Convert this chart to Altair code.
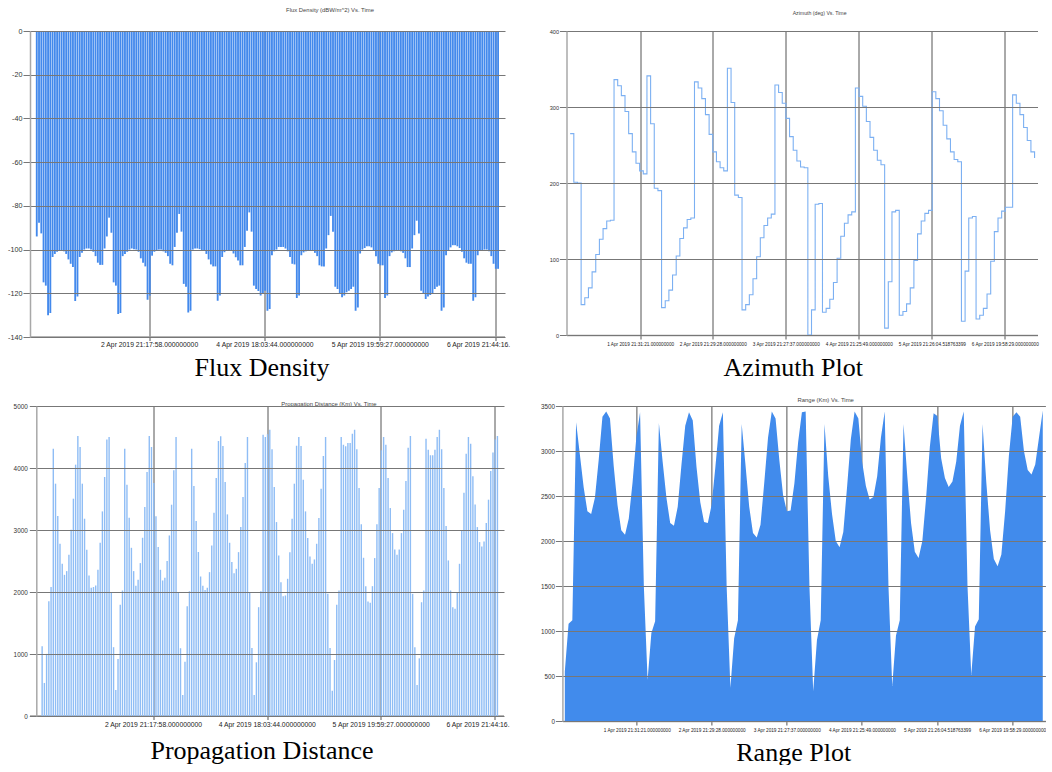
import json
import altair as alt
import pandas as pd

# ---------------- data ----------------
flux_values = [
    -94, -87.7, -92.6, -115, -116.5, -130, -129, -103.4, -102, -101, -100.5, -100.3, -100.8, -102, -104.5,
    -106.5, -108, -123.5, -121.5, -103.4, -101.5, -100, -99.5, -99.5, -100, -101, -103, -106, -107, -107,
    -99.5, -94, -85.4, -92.3, -115, -116.5, -129.5, -129, -103, -102, -101, -100, -99.5, -99.8, -100,
    -101, -104, -106, -107.7, -123, -121, -102.8, -101, -100.3, -100, -100, -100.8, -101.5, -103, -106.5,
    -107.2, -98.8, -92.3, -83.7, -91.8, -115.7, -117, -128.8, -128, -100, -99.5, -99.5, -99.8, -100.2, -100.6,
    -102, -104.5, -106.8, -107.7, -107.7, -123.4, -121, -103.4, -101.2, -100.5, -100.3, -100.6, -101.8, -103.5, -105,
    -107.2, -107.2, -98.8, -91.4, -83, -91.8, -116.5, -118, -119, -121, -120, -118.8, -128, -127.2, -102.6,
    -100.8, -100, -98.8, -98.8, -98.8, -99.5, -100.8, -103.4, -106.5, -106.8, -122.2, -121, -102.6, -101.3, -100.8,
    -100.6, -100.6, -100.6, -101.5, -103, -107.2, -107.7, -107.7, -99.5, -93.4, -84.6, -91.8, -117, -118, -120,
    -121.8, -121, -119.5, -118.8, -118, -117, -128, -126.5, -101.8, -100, -99.3, -98.5, -98.5, -99, -100.5,
    -103, -106.5, -107.2, -107.2, -122.2, -121, -103, -101.3, -100.8, -100.6, -100.6, -100.8, -101.5, -104, -108,
    -108, -99.5, -93.4, -86.8, -92.6, -118.8, -120.3, -122.6, -121.5, -120.8, -120, -118, -117, -116.5, -128,
    -126.5, -102.6, -100.5, -99, -98, -98, -98.5, -99.3, -101, -104, -106, -106.5, -106.5, -123.4, -121.8,
    -102.6, -100.6, -100.2, -100, -100, -100.8, -103, -106.5, -108.8, -108.8,
]

prop_values = [
    1125, 533, 1002, 1851, 2080, 4312, 3747, 3225, 2778, 2455, 2277, 2337, 2600, 3004, 3505, 4054, 4517, 4339,
    3747, 3182, 2682, 2267, 2067, 2080, 2105, 2358, 2794, 3300, 3855, 4458, 4500,
    1986, 1110, 420, 919, 1793, 2024,
    4312, 3731, 3198, 2713, 2337, 2100, 2197, 2466, 2875, 3370, 3935, 4517, 4339, 3758, 3220, 2724, 2358, 2186,
    2229, 2498, 2912, 3408, 3963, 4500,
    1986, 1093, 339, 877, 1771, 2012,
    4312, 3710, 3145, 2645, 2250, 2100, 2032, 2067, 2320, 2751, 3279, 3839, 4436, 4511, 4355, 3774, 3252, 2794,
    2482, 2304, 2374, 2643, 3047, 3532, 4081, 4500,
    1986, 1098, 339, 866, 1755, 2012,
    4538, 4500, 4543, 4618, 4301, 3693, 3128, 2590, 2159, 1932, 1943, 2213, 2643, 3182, 3747, 4360, 4500, 4355,
    3812, 3300, 2869, 2573, 2455, 2525, 2778, 3193, 3666, 4194, 4500,
    1970, 1098, 409, 903, 1793, 2024,
    4500, 4377, 4350, 4404, 4404, 4554, 4618, 4301, 3677, 3091, 2552, 2094, 1846, 1825, 2094, 2547, 3091, 3677,
    4285, 4500, 4377, 3839, 3354, 2950, 2686, 2600, 2686, 2950, 3327, 3790, 4328, 4517,
    1970, 1110, 501, 930, 1835, 2024,
    4473, 4296, 4204, 4204, 4296, 4500, 4618, 4301, 3677, 3064, 2509, 2024, 1755, 1728, 1997, 2455, 3000, 3602,
    4231, 4500, 4393, 3866, 3413, 3047, 2805, 2735, 2816, 3112, 3489, 3952, 4250, 4458, 4517,
]

azimuth_values = [
    265, 201, 200, 40, 49, 62, 83, 106, 126, 140, 150, 151, 336, 328, 315, 294, 265, 241, 226, 216,
    212, 341, 278, 193, 190, 36, 45, 59, 79, 104, 127, 141, 152, 154, 333, 325, 311, 290, 264, 241,
    228, 220, 216, 351, 306, 184, 181, 33, 40, 53, 74, 103, 128, 144, 154, 159, 329, 319, 305, 285,
    261, 243, 229, 221, 220, 0, 33, 172, 173, 30, 35, 47, 69, 101, 130, 147, 158, 162, 325, 314,
    301, 281, 260, 243, 230, 224, 9, 70, 162, 164, 26, 31, 41, 62, 98, 133, 150, 160, 164, 320,
    311, 295, 276, 258, 241, 231, 228, 18, 84, 154, 156, 21, 26, 35, 54, 97, 136, 154, 163, 168,
    168, 316, 305, 290, 273, 256, 241, 233,
]

range_values = [
    550, 1080, 1120, 3320, 2960, 2600, 2330, 2300, 2480, 2900, 3380, 3440, 3360, 2830, 2400, 2120, 2070,
    2250, 2650, 3150, 3430, 1500, 459, 978, 1107,
    3310, 2880, 2480, 2200, 2170, 2380, 2850, 3280, 3430, 3340, 2820, 2430, 2210, 2200, 2400, 2820, 3280,
    3430, 1500, 370, 920, 1120,
    3300, 2850, 2380, 2090, 2040, 2180, 2650, 3150, 3440, 3360, 2900, 2510, 2330, 2340, 2640, 3100, 3430,
    3440, 1500, 330, 900, 1120,
    3300, 2720, 2300, 2000, 1930, 2100, 2600, 3130, 3440, 3360, 2880, 2610, 2460, 2490, 2720, 3150, 3440,
    1500, 390, 950, 1120,
    3300, 2720, 2200, 1880, 1810, 2000, 2480, 3050, 3420, 3390, 2920, 2700, 2600, 2660, 2880, 3280, 3440,
    1500, 510, 1050, 1130,
    3300, 2650, 2120, 1800, 1720, 1850, 2330, 2950, 3380, 3430, 3380, 3000, 2790, 2740, 2850, 3150, 3450,
]

sample_ticks = [50, 101, 152, 203]
sample_labels = [
    "2 Apr 2019 21:17:58.000000000",
    "4 Apr 2019 18:03:44.000000000",
    "5 Apr 2019 19:59:27.000000000",
    "6 Apr 2019 21:44:16.",
]
daily_ticks = [19.14, 39.02, 58.98, 78.94, 98.91, 118.87]
daily_labels = [
    "1 Apr 2019 21:31:21.000000000",
    "2 Apr 2019 21:29:28.000000000",
    "3 Apr 2019 21:27:37.000000000",
    "4 Apr 2019 21:25:49.000000000",
    "5 Apr 2019 21:26:04.518763399",
    "6 Apr 2019 19:58:29.000000000",
]

chart_titles = [
    "Flux Density (dBW/m^2) Vs. Time",
    "Azimuth (deg) Vs. Time",
    "Propagation Distance (Km) Vs. Time",
    "Range (Km) Vs. Time",
]
captions = ["Flux Density", "Azimuth Plot", "Propagation Distance", "Range Plot"]

# ---------------- helpers ----------------
SANS = "Liberation Sans"
SERIF = "Liberation Serif"
BAR_BLUE = "#4389ec"
GRID = "#777777"


def label_expr(values, labels):
    return f"{json.dumps(labels)}[indexof({json.dumps(values)}, datum.value)]"


def title_params(text, dx, offset, size=5.9):
    return alt.TitleParams(
        text=text, font=SANS, fontSize=size, fontWeight="normal", color="#444444",
        anchor="middle", frame="group", dx=dx, offset=offset, baseline="alphabetic",
    )


def x_axis(values, labels, caption, title_x, title_y, font_size, align, label_offset, pad, translate=0.5):
    return alt.Axis(
        values=values, labelExpr=label_expr(values, labels),
        labelFont=SANS, labelFontSize=font_size, labelColor="#222222",
        labelAlign=align, labelOffset=label_offset, labelPadding=pad,
        labelOverlap=False, labelFlush=False,
        tickSize=4, tickColor="#555555", grid=True, gridColor="#555555", gridOpacity=1,
        domainColor="#9c9c9c", domainWidth=1.5, zindex=0, translate=translate,
        title=caption, titleFont=SERIF, titleFontSize=26, titleFontWeight="normal",
        titleColor="#000000", titleX=title_x, titleY=title_y, titleBaseline="alphabetic",
        titleAlign="center",
    )


def y_axis(values, font_size, extent, expr=None, fmt=None, zindex=1, pad=1, offset=0):
    kw = dict(
        values=values, labelFont=SANS, labelFontSize=font_size, labelColor="#333333",
        labelPadding=pad, tickSize=7, tickColor=GRID, grid=True, gridColor=GRID, gridOpacity=1,
        domainColor="#a8a8a8", domainWidth=1.5, zindex=zindex, minExtent=extent, title=None,
        offset=offset,
    )
    if expr is not None:
        kw["labelExpr"] = expr
    if fmt is not None:
        kw["format"] = fmt
    return alt.Axis(**kw)


# ---------------- panels ----------------
flux_df = pd.DataFrame({"i": list(range(len(flux_values))), "v": flux_values})
flux = alt.Chart(flux_df).mark_bar(size=1.85, color=BAR_BLUE, clip=True).encode(
    x=alt.X("i:Q", scale=alt.Scale(domain=[-0.78, 204.85], nice=False, zero=False),
            axis=x_axis(sample_ticks, sample_labels, captions[0], 232, 39, 6.8, "left", -48.8, 1, 0)),
    y=alt.Y("v:Q", scale=alt.Scale(domain=[-140, 0], nice=False),
            axis=y_axis(list(range(-140, 1, 20)), 7.2, 30, expr="datum.value + ''")),
).properties(width=475, height=306, title=title_params(chart_titles[0], 62.5, 9))

az_df = pd.DataFrame({"k": list(range(len(azimuth_values))), "v": azimuth_values})
az = alt.Chart(az_df).mark_line(interpolate="step-after", color="#7cb0f2", strokeWidth=1.1, clip=True).encode(
    x=alt.X("k:Q", scale=alt.Scale(domain=[-1.0, 127.8], nice=False, zero=False),
            axis=x_axis(daily_ticks, daily_labels, captions[1], 226.3, 40, 4.7, "center", 0, 2)),
    y=alt.Y("v:Q", scale=alt.Scale(domain=[0, 400], nice=False),
            axis=y_axis([0, 100, 200, 300, 400], 5.6, 20, fmt="d")),
).properties(width=471, height=304, title=title_params(chart_titles[1], 17.6, 9, 5.2))

prop_df = pd.DataFrame({"j": list(range(len(prop_values))), "v": prop_values})
prop = alt.Chart(prop_df).mark_bar(size=1.4, color="#8fbdf5", clip=True).encode(
    x=alt.X("j:Q", scale=alt.Scale(domain=[-3.2, 204.7], nice=False, zero=False),
            axis=x_axis(sample_ticks, sample_labels, captions[2], 232, 43, 6.8, "left", -48.8, 1.6, 0)),
    y=alt.Y("v:Q", scale=alt.Scale(domain=[0, 5000], nice=False),
            axis=y_axis([0, 1000, 2000, 3000, 4000, 5000], 6.4, 30, fmt="d", pad=2, offset=-6.3)),
).properties(width=474, height=310, title=title_params(chart_titles[2], 62, -9))

rng_df = pd.DataFrame({"k": list(range(len(range_values))), "v": range_values})
rng = alt.Chart(rng_df).mark_area(color="#418bec", clip=True).encode(
    x=alt.X("k:Q", scale=alt.Scale(domain=[-0.64, 127.7], nice=False, zero=False),
            axis=x_axis(daily_ticks, daily_labels, captions[3], 230.8, 39, 4.7, "center", 0, 2)),
    y=alt.Y("v:Q", scale=alt.Scale(domain=[0, 3500], nice=False),
            axis=y_axis([0, 500, 1000, 1500, 2000, 2500, 3000, 3500], 6.3, 22, fmt="d")),
).properties(width=483, height=315, title=title_params(chart_titles[3], 21.8, -5))

row1 = alt.hconcat(flux, az, spacing=35.5)
row2 = alt.hconcat(prop, rng, spacing=29.4)

chart = alt.concat(row1, row2, columns=1, align="none", spacing=16).properties(
    padding={"left": 0, "top": 7, "right": 0, "bottom": 0},
    background="white",
).configure_view(stroke=None)

chart.save("out.html", embed_options={"renderer": "svg", "actions": False})
